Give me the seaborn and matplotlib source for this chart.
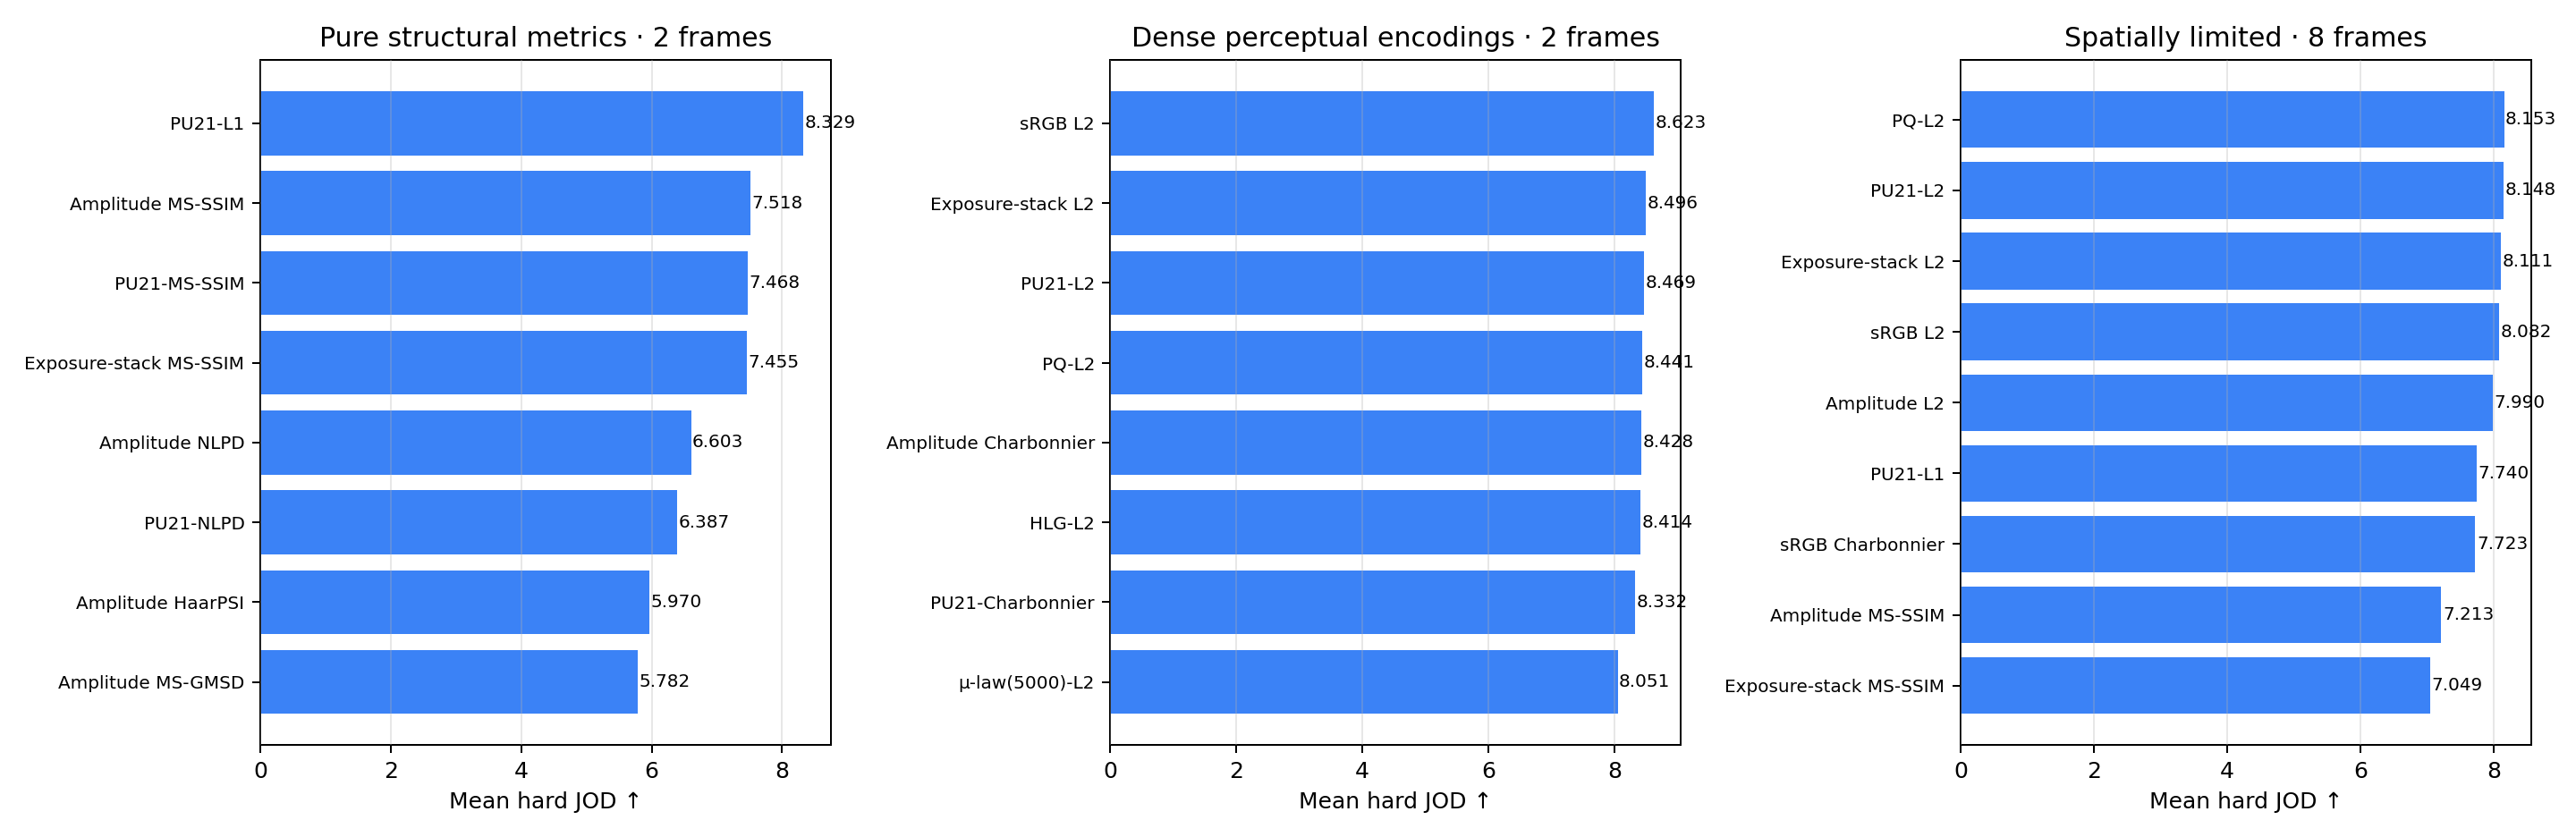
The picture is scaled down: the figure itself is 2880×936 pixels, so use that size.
import matplotlib
matplotlib.use("Agg")
import matplotlib.pyplot as plt
import seaborn as sns
import pandas as pd

titles = [
    "Pure structural metrics · 2 frames",
    "Dense perceptual encodings · 2 frames",
    "Spatially limited · 8 frames",
]

labels_1 = ["PU21-L1", "Amplitude MS-SSIM", "PU21-MS-SSIM", "Exposure-stack MS-SSIM",
            "Amplitude NLPD", "PU21-NLPD", "Amplitude HaarPSI", "Amplitude MS-GMSD"]
values_1 = [8.329, 7.518, 7.468, 7.455, 6.603, 6.387, 5.970, 5.782]

labels_2 = ["sRGB L2", "Exposure-stack L2", "PU21-L2", "PQ-L2",
            "Amplitude Charbonnier", "HLG-L2", "PU21-Charbonnier", "µ-law(5000)-L2"]
values_2 = [8.623, 8.496, 8.469, 8.441, 8.428, 8.414, 8.332, 8.051]

labels_3 = ["PQ-L2", "PU21-L2", "Exposure-stack L2", "sRGB L2", "Amplitude L2",
            "PU21-L1", "sRGB Charbonnier", "Amplitude MS-SSIM", "Exposure-stack MS-SSIM"]
values_3 = [8.153, 8.148, 8.111, 8.082, 7.990, 7.740, 7.723, 7.213, 7.049]

xlabel = "Mean hard JOD ↑"
bar_color = "#3b82f6"

panels = [(labels_1, values_1), (labels_2, values_2), (labels_3, values_3)]

fig, axes = plt.subplots(1, 3, figsize=(16, 5.2), dpi=180)
fig.subplots_adjust(left=0.101, right=0.9826, top=0.928, bottom=0.110, wspace=0.49)

for ax, title, (labels, values) in zip(axes, titles, panels):
    df = pd.DataFrame({"method": labels, "score": values})
    sns.barplot(data=df, x="score", y="method", orient="h", ax=ax,
                color=bar_color, saturation=1, width=0.8, linewidth=0,
                errorbar=None, zorder=1)
    n = len(labels)
    rng = n - 0.2
    ax.set_ylim(n - 0.6 + 0.05 * rng, -0.4 - 0.05 * rng)
    ax.set_xlim(0, max(values) * 1.05)
    ax.set_xticks([0, 2, 4, 6, 8])
    ax.set_title(title, fontsize=12)
    ax.set_xlabel(xlabel, fontsize=10)
    ax.set_ylabel("")
    ax.tick_params(axis="y", labelsize=8)
    ax.tick_params(axis="x", labelsize=10)
    ax.grid(axis="x", alpha=0.3)
    ax.grid(axis="y", visible=False)
    ax.set_axisbelow(False)
    for i, v in enumerate(values):
        ax.text(v + 0.02, i, f"{v:.3f}", va="center", ha="left", fontsize=8)
    for s in ax.spines.values():
        s.set_visible(True)
        s.set_color("black")
        s.set_linewidth(0.8)

fig.savefig("out.png", dpi=180)
